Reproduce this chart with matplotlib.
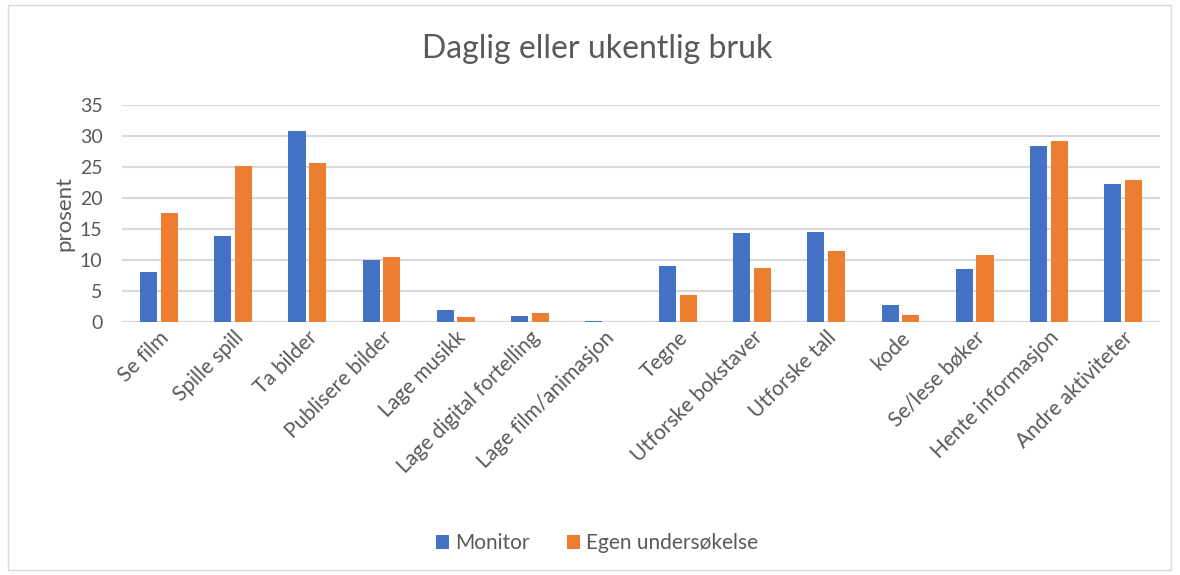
import matplotlib.pyplot as plt
import matplotlib.patches as mpatches
import numpy as np

plt.rcParams['font.family'] = ['Lato', 'DejaVu Sans']

# --- Data ---
kategorier = ['Se film', 'Spille spill', 'Ta bilder', 'Publisere bilder', 'Lage musikk',
              'Lage digital fortelling', 'Lage film/animasjon', 'Tegne', 'Utforske bokstaver',
              'Utforske tall', 'kode', 'Se/lese bøker', 'Hente informasjon', 'Andre aktiviteter']
monitor = [8.1, 13.9, 30.9, 10.0, 2.0, 0.9, 0.2, 9.1, 14.3, 14.55, 2.7, 8.6, 28.45, 22.3]
egen = [17.55, 25.2, 25.6, 10.5, 0.8, 1.45, 0.0, 4.3, 8.75, 11.5, 1.2, 10.8, 29.15, 23.0]

blaa = '#4472C4'
oransje = '#ED7D31'
tekst = '#595959'

fig = plt.figure(figsize=(11.8, 5.75), dpi=100)
ax = fig.add_axes([0.1034, 0.44, 0.8796, 0.377])

x = np.arange(len(kategorier))
b = 0.23
ax.bar(x - 0.14, monitor, b, color=blaa, label='Monitor', zorder=3)
ax.bar(x + 0.14, egen, b, color=oransje, label='Egen undersøkelse', zorder=3)

ax.set_xlim(-0.5, len(kategorier) - 0.5)
ax.set_ylim(0, 35)
ax.set_yticks(range(0, 36, 5))
ax.yaxis.grid(True, color='#D9D9D9', linewidth=1.5, zorder=0)
for s in ax.spines.values():
    s.set_visible(False)
ax.axhline(0, color='#D9D9D9', linewidth=1.5, zorder=2)
ax.tick_params(length=0, colors=tekst, labelsize=14)
ax.tick_params(axis='y', pad=14)
ax.tick_params(axis='x', labelsize=15, pad=4)
ax.set_xticks(x)
ax.set_xticklabels(kategorier, rotation=45, ha='right', rotation_mode='anchor')
ax.set_ylabel('prosent', color=tekst, fontsize=16, labelpad=4)

fig.suptitle('Daglig eller ukentlig bruk', x=0.506, y=0.94, fontsize=23, color=tekst)

fig.legend(loc='center', bbox_to_anchor=(0.506, 0.055), ncol=2, frameon=False,
           fontsize=15, labelcolor=tekst, handlelength=0.6, handleheight=0.6,
           columnspacing=1.8, handletextpad=0.3)

fig.patches.append(mpatches.Rectangle((0.007, 0.008), 0.985, 0.984, transform=fig.transFigure,
                                      fill=False, edgecolor='#D9D9D9', linewidth=1))

plt.savefig('out.png', dpi=100)
